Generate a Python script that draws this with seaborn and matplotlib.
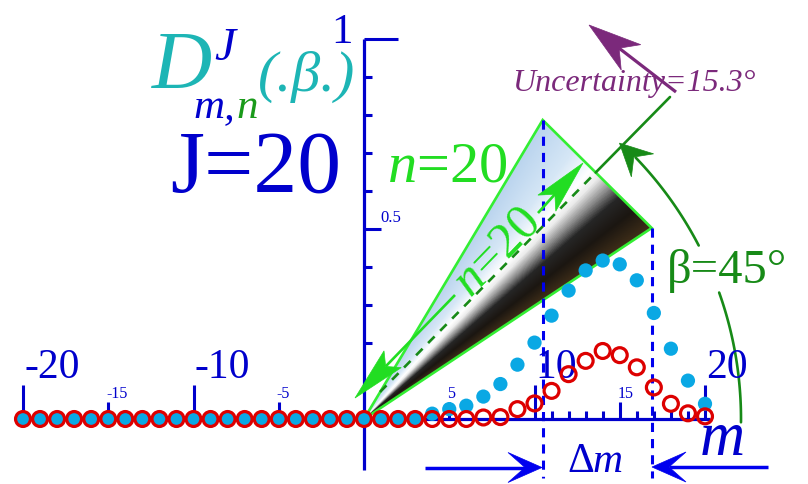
import numpy as np
import pandas as pd
import matplotlib
matplotlib.use("Agg")
import matplotlib.pyplot as plt
import matplotlib.transforms as mtransforms
from matplotlib.patches import Polygon
from matplotlib.colors import LinearSegmentedColormap
import seaborn as sns

# Wigner function D^J_{m,n}(beta) for J = 20, n = 20, beta = 45 degrees
m_values = list(range(-20, 21))
amplitude = [0.0] * 24 + [0.014, 0.026, 0.035, 0.059, 0.092, 0.143, 0.201, 0.272,
                          0.338, 0.391, 0.417, 0.407, 0.365, 0.279, 0.185, 0.101, 0.040]
probability = [0.0] * 27 + [0.004, 0.005, 0.026, 0.041, 0.074, 0.118, 0.153, 0.179,
                            0.168, 0.136, 0.083, 0.040, 0.015, 0.007]

major_ticks = [-20, -10, 10, 20]
mid_ticks = [-15, -5, 5, 15]
fine_ticks = [11, 12, 13, 14, 16, 17, 18, 19]
y_fine_ticks = [0.1, 0.2, 0.3, 0.4, 0.6, 0.7, 0.8, 0.9]

BLUE = "#0000cc"
ARROW_BLUE = "#0000ee"
DOT_BLUE = "#0aa8e4"
RED = "#dd0000"
CYAN = "#1db5b5"
BRIGHT_GREEN = "#22dd22"
EDGE_GREEN = "#33ee33"
DARK_GREEN = "#178a17"
MID_GREEN = "#1a9a1a"
PURPLE = "#7b297b"

sns.set_style("white")
plt.rcParams["font.family"] = ["Liberation Serif", "DejaVu Serif"]
plt.rcParams["mathtext.fontset"] = "custom"
plt.rcParams["mathtext.rm"] = "Liberation Serif"
plt.rcParams["mathtext.it"] = "Liberation Serif:italic"

W, H = 808, 484
X0, SX = 364.0, 17.05   # pixel column of m = 0 and pixels per unit of m
Y0, SY = 419.0, 380.0   # pixel row of D = 0 and pixels per unit of D

fig = plt.figure(figsize=(W / 100, H / 100), dpi=100, facecolor="white")
ax = fig.add_axes([0, 0, 1, 1])
ax.set_axis_off()
# pixel frame (origin top-left) for the schematic decorations
PX = mtransforms.Affine2D().scale(1 / W, -1 / H).translate(0, 1) + fig.transFigure

# ---- shaded cone --------------------------------------------------------
O = (364.0, 419.0)
A = (542.7, 120.0)
B = (651.7, 228.0)
xs = np.arange(358, 658) + 0.5
ys = np.arange(114, 424) + 0.5
gx, gy = np.meshgrid(xs, ys)
ang = np.degrees(np.arctan2(O[1] - gy, gx - O[0]))
a_top = np.degrees(np.arctan2(O[1] - A[1], A[0] - O[0]))
a_bot = np.degrees(np.arctan2(O[1] - B[1], B[0] - O[0]))
frac = np.clip((a_top - ang) / (a_top - a_bot), 0, 1)
shade = LinearSegmentedColormap.from_list(
    "cone",
    [(0.0, "#bad4ee"), (0.28, "#d6e7f6"), (0.45, "#ffffff"), (0.52, "#ececec"),
     (0.62, "#8a8a8a"), (0.71, "#262626"), (0.84, "#1b1611"), (1.0, "#3f2e19")])
extent = [(358 - X0) / SX, (658 - X0) / SX, (Y0 - 424) / SY, (Y0 - 114) / SY]
im = ax.imshow(shade(frac), extent=extent, origin="upper", aspect="auto",
               interpolation="bilinear", zorder=1)
clip = Polygon([O, A, B], closed=True, transform=PX, facecolor="none",
               edgecolor="none")
ax.add_patch(clip)
im.set_clip_path(clip)
ax.plot([O[0], A[0], B[0], O[0]], [O[1], A[1], B[1], O[1]], transform=PX,
        color=EDGE_GREEN, lw=1.9, solid_joinstyle="miter", zorder=2)

# projections of the cone rim onto the m axis
for px in (A, B):
    ax.plot([px[0], px[0]], [px[1], 478], transform=PX, color=ARROW_BLUE,
            lw=2.2, ls=(0, (3, 2.3)), zorder=3)

# cone axis
P1, C, P2 = (380.0, 392.0), (595.7, 172.5), (670.0, 97.0)
ax.plot([P1[0], C[0]], [P1[1], C[1]], transform=PX, color=DARK_GREEN, lw=1.9,
        ls=(0, (3.5, 3)), zorder=3)
ax.plot([C[0], P2[0]], [C[1], P2[1]], transform=PX, color=DARK_GREEN, lw=1.9,
        zorder=3)


def head(tip, direction, length, half, notch, color, z=6):
    d = np.asarray(direction, float)
    ux, uy = d / np.hypot(*d)
    nx, ny = -uy, ux
    tx, ty = tip
    bx, by = tx - length * ux, ty - length * uy
    pts = [(tx, ty), (bx + half * nx, by + half * ny),
           (tx - notch * ux, ty - notch * uy), (bx - half * nx, by - half * ny)]
    ax.add_patch(Polygon(pts, closed=True, transform=PX, facecolor=color,
                         edgecolor=color, lw=0.5, zorder=z))
    return tx - notch * ux, ty - notch * uy


def arrow(start, tip, length, half, notch, color, lw, z=6):
    d = (tip[0] - start[0], tip[1] - start[1])
    nx_, ny_ = head(tip, d, length, half, notch, color, z)
    ax.plot([start[0], nx_], [start[1], ny_], transform=PX, color=color, lw=lw,
            solid_capstyle="butt", zorder=z)


# n = 20 label along the cone with arrows both ways
T_up, T_dn = (583.0, 163.0), (355.0, 398.0)
arrow((455.0, 295.0), T_dn, 54, 12, 44, BRIGHT_GREEN, 1.9)
arrow((538.0, 213.0), T_up, 54, 12, 42, BRIGHT_GREEN, 1.9)
ax.text(497, 253, r"$n$=20", transform=PX, rotation=45.9, rotation_mode="anchor",
        ha="center", va="center", fontsize=36, color=BRIGHT_GREEN, zorder=5)

# beta arc
R = 377.0
for t0, t1 in ((-0.5, 19.6), (27.4, 43.9)):
    t = np.radians(np.linspace(t0, t1, 80))
    ax.plot(O[0] + R * np.cos(t), O[1] - R * np.sin(t), transform=PX,
            color=DARK_GREEN, lw=1.9, zorder=3)
tt = np.radians(47.2)
head((O[0] + 376 * np.cos(tt), O[1] - 376 * np.sin(tt)),
     (-np.sin(np.radians(46)), -np.cos(np.radians(46))), 32, 16, 20, DARK_GREEN)

# uncertainty arrow
arrow((676.0, 92.0), (589.0, 25.0), 53, 16, 38, PURPLE, 2.3)

# delta m arrows
arrow((425.0, 467.5), (542.0, 467.5), 34, 15, 17, ARROW_BLUE, 2.5)
arrow((768.0, 467.0), (652.0, 467.0), 34, 15, 17, ARROW_BLUE, 2.5)

# ---- axes -------------------------------------------------------------
ax.plot([-20.3, 20.3], [0, 0], color=BLUE, lw=2.3, solid_capstyle="butt", zorder=4)
ax.plot([0, 0], [-0.134, 1.0], color=BLUE, lw=2.3, solid_capstyle="butt", zorder=4)
ax.vlines(major_ticks, 0, 0.09, color=BLUE, lw=2.2, zorder=4)
ax.vlines(mid_ticks, 0, 0.046, color=BLUE, lw=2.2, zorder=4)
ax.vlines(fine_ticks, 0, 0.021, color=BLUE, lw=2.2, zorder=4)
ax.hlines(y_fine_ticks, 0, 0.47, color=BLUE, lw=2.2, zorder=4)
ax.hlines([0.5], 0, 1.0, color=BLUE, lw=2.2, zorder=4)
ax.hlines([1.0], 0, 2.0, color=BLUE, lw=2.2, zorder=4)

for mt in major_ticks:
    ax.annotate(str(mt), (mt, 0), xytext=(1, 41), textcoords="offset pixels",
                ha="left", va="baseline", fontsize=30, color=BLUE, zorder=5)
for mt in mid_ticks:
    ax.annotate(str(mt), (mt, 0), xytext=(-2, 21), textcoords="offset pixels",
                ha="left", va="baseline", fontsize=11.5, color=BLUE, zorder=5)
ax.annotate("0.5", (0, 0.5), xytext=(16, 7), textcoords="offset pixels",
            ha="left", va="baseline", fontsize=12, color=BLUE)
ax.annotate("1", (0, 1.0), xytext=(-11, -4), textcoords="offset pixels",
            ha="right", va="baseline", fontsize=31, color=BLUE)

# ---- data points ------------------------------------------------------
df = pd.DataFrame({"m": m_values, "amplitude": amplitude,
                   "probability": probability})
sns.scatterplot(data=df, x="m", y="amplitude", ax=ax, color=DOT_BLUE, s=105,
                edgecolor="none", linewidth=0, zorder=7, legend=False)
sns.scatterplot(data=df, x="m", y="probability", ax=ax, color=RED,
                facecolor="none", edgecolor=RED, s=115, linewidth=2.3,
                zorder=8, legend=False)

# ---- labels -----------------------------------------------------------
def label(x, y, s, size, color, style="normal", ha="left"):
    ax.text(x, y, s, transform=PX, fontsize=size, color=color, style=style,
            ha=ha, va="baseline", zorder=9)


label(152, 88, "D", 60, CYAN, "italic")
label(214, 60, "J", 34, BLUE, "italic")
label(193, 118, "m", 31, BLUE, "italic")
label(224, 118, ",", 31, BLUE, "italic")
label(236, 118, "n", 31, MID_GREEN, "italic")
label(258, 91, "(.β.)", 42, CYAN, "italic")
label(170, 192, "J=20", 63, BLUE)
label(387, 182, r"$n$=20", 42, BRIGHT_GREEN)
label(512, 91, "Uncertainty=15.3°", 23, PURPLE, "italic")
label(667, 283, "β=45°", 35, DARK_GREEN)
label(722, 455, "m", 45, BLUE, "italic", ha="center")
label(567, 472, "Δ", 30, BLUE)
label(593, 472, "m", 30, BLUE, "italic")

ax.set_xlim(-X0 / SX, (W - X0) / SX)
ax.set_ylim((Y0 - H) / SY, Y0 / SY)
fig.savefig("out.png", dpi=100, facecolor="white")
